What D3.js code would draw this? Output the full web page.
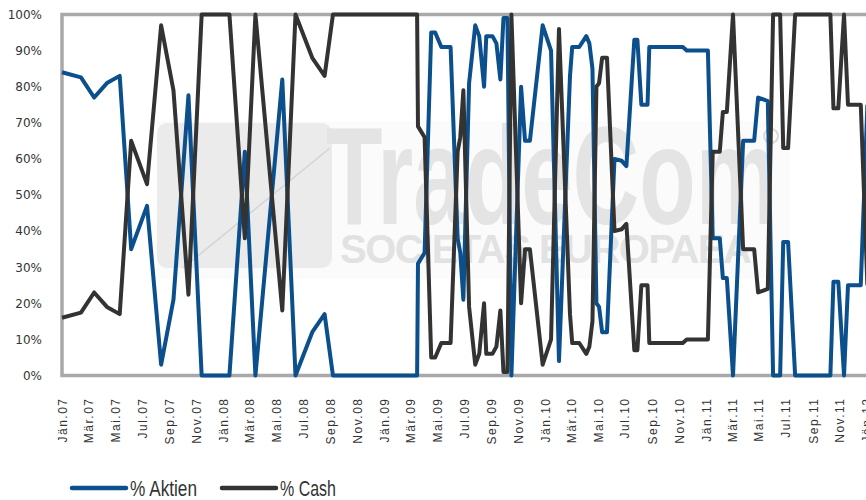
<!DOCTYPE html>
<html>
<head>
<meta charset="utf-8">
<script src="https://cdn.jsdelivr.net/npm/d3@7"></script>
<style>
  body { margin: 0; background: #fff; }
  svg { display: block; }
</style>
</head>
<body>
<div id="chart"></div>
<script>
// Stichtage und Gewichtung
const dates = [
  '2007-01-01','2007-02-13','2007-03-15','2007-04-13','2007-05-12','2007-06-07','2007-07-13','2007-08-14',
  '2007-09-11','2007-10-15','2007-11-14','2008-01-16','2008-02-20','2008-03-15','2008-05-15','2008-06-14',
  '2008-07-22','2008-08-19','2008-09-07','2009-03-17','2009-03-19','2009-04-03','2009-04-18','2009-04-27',
  '2009-05-11','2009-06-01','2009-06-17','2009-06-23','2009-06-30','2009-07-13','2009-07-27','2009-08-05',
  '2009-08-16','2009-08-21','2009-09-04','2009-09-13','2009-09-22','2009-09-29','2009-10-08','2009-10-17',
  '2009-11-08','2009-11-17','2009-11-28','2009-12-27','2010-01-15','2010-02-02','2010-02-27','2010-03-04',
  '2010-03-20','2010-04-05','2010-04-12','2010-04-19','2010-04-28','2010-05-04','2010-05-11','2010-05-22',
  '2010-06-08','2010-06-24','2010-07-05','2010-07-23','2010-07-30','2010-08-08','2010-08-22','2010-08-26',
  '2010-11-10','2010-11-19','2011-01-06','2011-01-17','2011-02-02','2011-02-09','2011-02-18','2011-03-04',
  '2011-03-27','2011-04-21','2011-04-30','2011-05-22','2011-06-03','2011-06-19','2011-06-26','2011-07-07',
  '2011-07-23','2011-10-11','2011-10-18','2011-10-29','2011-11-11','2011-11-20','2011-12-19','2012-01-03'
]

const aktien = [
  84, 82.6, 77, 81, 83, 35, 47, 3,
  21, 77.6, 0, 0, 62, 0, 82, 0,
  12, 17, 0, 0, 31, 34, 95, 95,
  91, 91, 38, 34, 21, 81, 97, 94,
  80, 94, 94, 92, 82, 99, 99, 0,
  80, 65, 65, 97, 90, 4, 83, 91,
  91, 94, 92, 85, 20, 19, 12, 12,
  60, 59.5, 58, 93, 93, 75, 75, 91,
  91, 90, 90, 38, 38, 27, 27, 0,
  65, 65, 77, 76, 0, 0, 37, 37,
  0, 0, 26, 26, 0, 25, 25, 75
]

const cash = [
  16, 17.4, 23, 19, 17, 65, 53, 97,
  79, 22.4, 100, 100, 38, 100, 18, 100,
  88, 83, 100, 100, 69, 66, 5, 5,
  9, 9, 62, 66, 79, 19, 3, 6,
  20, 6, 6, 8, 18, 1, 1, 100,
  20, 35, 35, 3, 10, 96, 17, 9,
  9, 6, 8, 15, 80, 81, 88, 88,
  40, 40.5, 42, 7, 7, 25, 25, 9,
  9, 10, 10, 62, 62, 73, 73, 100,
  35, 35, 23, 24, 100, 100, 63, 63,
  100, 100, 74, 74, 100, 75, 75, 25
]

const monthNames = ['Jän','Feb','Mär','Apr','Mai','Jun','Jul','Aug','Sep','Okt','Nov','Dez']
const yTicks = [0, 10, 20, 30, 40, 50, 60, 70, 80, 90, 100]
const seriesNames = ['% Aktien', '% Cash']
const seriesColors = ['#0b4f8d', '#333333']

const width = 866
const height = 500
const parse = d3.timeParse('%Y-%m-%d')

const svg = d3.select('#chart').append('svg')
    .attr('width', width)
    .attr('height', height)

const x = d3.scaleTime()
    .domain([new Date(2007, 0, 1), new Date(2012, 0, 1)])
    .range([62, 866.5])

const y = d3.scaleLinear()
    .domain([0, 100])
    .range([375.5, 14.5])

// Wasserzeichen
const wm = svg.append('g')
wm.append('rect')
    .attr('x', 157).attr('y', 121).attr('width', 633).attr('height', 158)
    .attr('fill', '#fbfbfb')
wm.append('rect')
    .attr('x', 157).attr('y', 123).attr('width', 175).attr('height', 145)
    .attr('rx', 10)
    .attr('fill', '#ebebeb')
wm.append('path')
    .attr('d', 'M183,268 L330,148')
    .attr('stroke', '#d4d4d4').attr('stroke-width', 1.5)
wm.append('text')
    .attr('x', 326).attr('y', 224)
    .attr('textLength', 452).attr('lengthAdjust', 'spacingAndGlyphs')
    .style('font', 'bold 140px "Liberation Sans Narrow", "Liberation Sans", sans-serif')
    .attr('fill', '#e4e4e4')
    .text('TradeCom')
wm.append('circle')
    .attr('cx', 771).attr('cy', 136).attr('r', 7)
    .attr('fill', 'none').attr('stroke', '#dadada').attr('stroke-width', 2)
wm.append('text')
    .attr('x', 340).attr('y', 263)
    .attr('textLength', 412).attr('lengthAdjust', 'spacing')
    .style('font', 'bold 40px "Liberation Sans Narrow", "Liberation Sans", sans-serif')
    .attr('fill', '#e2e2e2')
    .text('SOCIETAS EUROPAEA')

// Rahmen
svg.append('path')
    .attr('d', `M${width},${y(100)} H62 V${y(0)} H${width}`)
    .attr('fill', 'none')
    .attr('stroke', '#a9a9a9')
    .attr('stroke-width', 3.5)

// Achsen
const yAxis = svg.append('g')
    .attr('transform', 'translate(62,0)')
    .call(d3.axisLeft(y).tickValues(yTicks).tickSize(0).tickPadding(20).tickFormat(d => d + '%'))
yAxis.select('.domain').remove()
yAxis.selectAll('text')
    .style('font', '12px "DejaVu Sans", sans-serif')
    .attr('fill', '#333')

const xAxis = svg.append('g')
    .attr('transform', `translate(0,${y(0)})`)
    .call(d3.axisBottom(x)
      .ticks(d3.timeMonth.every(2))
      .tickSize(0)
      .tickFormat(d => monthNames[d.getMonth()] + '.' + d3.timeFormat('%y')(d)))
xAxis.select('.domain').remove()
xAxis.selectAll('text')
    .attr('transform', 'rotate(-90)')
    .attr('x', -22)
    .attr('y', 0)
    .attr('dy', '0.36em')
    .style('text-anchor', 'end')
    .style('font', '12px "Liberation Sans", Arial, sans-serif')
    .style('letter-spacing', '1.5px')
    .attr('fill', '#333')

// Linien
const rows = dates.map((d, i) => ({ date: parse(d), aktien: aktien[i], cash: cash[i] }))
const line = key => d3.line()
    .x(d => x(d.date))
    .y(d => y(d[key]))

svg.append('path')
    .datum(rows)
    .attr('fill', 'none')
    .attr('stroke', seriesColors[0])
    .attr('stroke-width', 4)
    .attr('stroke-linejoin', 'round')
    .attr('d', line('aktien'))

svg.append('path')
    .datum(rows)
    .attr('fill', 'none')
    .attr('stroke', seriesColors[1])
    .attr('stroke-width', 4)
    .attr('stroke-linejoin', 'round')
    .attr('d', line('cash'))

// Legende
const legendX = [72, 222]
const legendW = [67, 56]
const legend = svg.append('g')
seriesNames.forEach((name, i) => {
  legend.append('line')
      .attr('x1', legendX[i]).attr('x2', legendX[i] + 54)
      .attr('y1', 488).attr('y2', 488)
      .attr('stroke', seriesColors[i])
      .attr('stroke-width', 4.5)
      .attr('stroke-linecap', 'round')
  legend.append('text')
      .attr('x', legendX[i] + 58)
      .attr('y', 496)
      .attr('textLength', legendW[i])
      .attr('lengthAdjust', 'spacingAndGlyphs')
      .style('font', '22px "Liberation Sans Narrow", "Arial Narrow", sans-serif')
      .attr('fill', '#333')
      .text(name)
})
</script>
</body>
</html>
